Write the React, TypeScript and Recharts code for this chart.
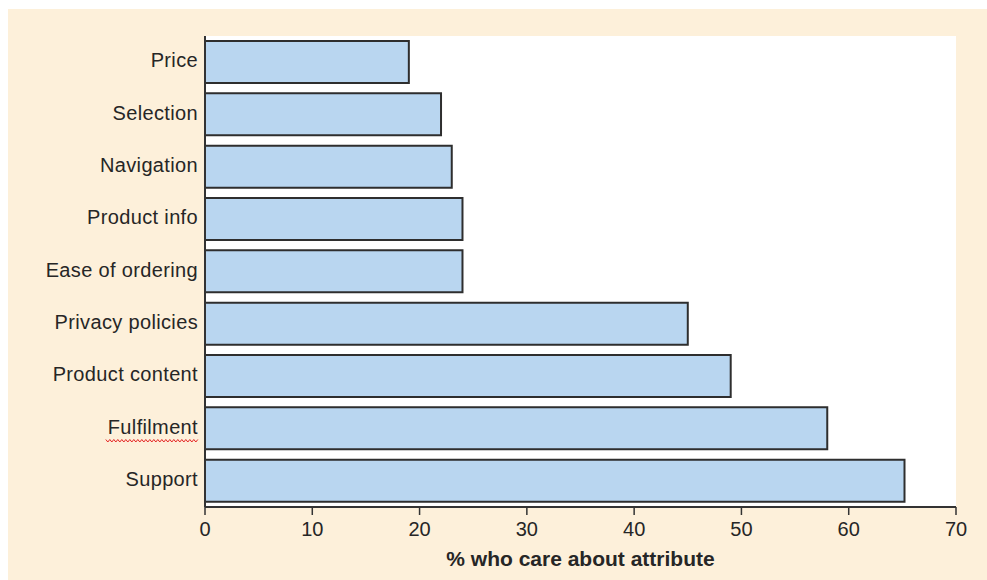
import React from "react";
import { BarChart, Bar, XAxis, YAxis, CartesianGrid, Label } from "recharts";

const categories = [
  "Price",
  "Selection",
  "Navigation",
  "Product info",
  "Ease of ordering",
  "Privacy policies",
  "Product content",
  "Fulfilment",
  "Support",
];
const values = [19, 22, 23, 24, 24, 45, 49, 58, 65.2];
const xTicks = [0, 10, 20, 30, 40, 50, 60, 70];
const axisTitle = "% who care about attribute";
const flaggedLabel = "Fulfilment";

const data = categories.map((name, i) => ({ name, value: values[i] }));

const FONT = "'Liberation Sans', Arial, sans-serif";
const LABEL_SIZE = 20;
const LABEL_SPACING = 0.35;

const CategoryTick = (props: any) => {
  const { x, y, payload } = props;
  const label = String(payload.value);
  let squiggle: React.ReactNode = null;
  if (label === flaggedLabel) {
    const w = 4.334 * LABEL_SIZE + LABEL_SPACING * label.length + 2;
    const pts: string[] = [];
    const startX = x - w;
    const yy = y + 11;
    let k = 0;
    for (let px = startX; px <= x; px += 2) {
      pts.push(`${px},${yy + (k % 2 === 0 ? 0 : 2.5)}`);
      k++;
    }
    squiggle = (
      <polyline points={pts.join(" ")} fill="none" stroke="#e52222" strokeWidth={1} />
    );
  }
  return (
    <g>
      <text
        x={x}
        y={y - 2}
        dy="0.35em"
        textAnchor="end"
        fill="#262626"
        fontSize={LABEL_SIZE}
        letterSpacing={LABEL_SPACING}
        fontFamily={FONT}
      >
        {label}
      </text>
      {squiggle}
    </g>
  );
};

export default function App() {
  return (
    <div
      style={{
        position: "fixed",
        left: 8,
        top: 9,
        width: 1010,
        height: 610,
        background: "#FDF0DA",
      }}
    >
      <BarChart
        width={979}
        height={571}
        data={data}
        layout="vertical"
        margin={{ top: 27, right: 31, bottom: 0, left: 0 }}
        barCategoryGap={5}
      >
        <CartesianGrid fill="#ffffff" horizontal={false} vertical={false} />
        <XAxis
          type="number"
          domain={[0, 70]}
          ticks={xTicks}
          interval={0}
          height={73}
          axisLine={{ stroke: "#333", strokeWidth: 2 }}
          tickLine={{ stroke: "#333", strokeWidth: 1.5 }}
          tickSize={8}
          tickMargin={7}
          tick={{ fill: "#262626", fontSize: 20, fontFamily: FONT }}
        >
          <Label
            value={axisTitle}
            position="insideBottom"
            offset={14}
            fill="#262626"
            fontSize={21}
            fontWeight="bold"
            fontFamily={FONT}
          />
        </XAxis>
        <YAxis
          type="category"
          dataKey="name"
          width={197}
          axisLine={{ stroke: "#333", strokeWidth: 2 }}
          tickLine={false}
          tickSize={0}
          tickMargin={7}
          interval={0}
          tick={<CategoryTick />}
        />
        <Bar
          dataKey="value"
          fill="#B9D6F0"
          stroke="#2e2e2e"
          strokeWidth={2}
          isAnimationActive={false}
        />
      </BarChart>
    </div>
  );
}
